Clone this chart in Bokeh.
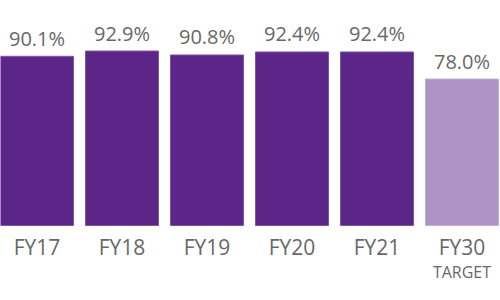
from bokeh.plotting import figure
from bokeh.models import Range1d, ColumnDataSource
from bokeh.core.properties import value
from bokeh.embed import file_html
from bokeh.resources import INLINE

categories = ["FY17", "FY18", "FY19", "FY20", "FY21", "FY30"]
values = [90.1, 92.9, 90.8, 92.4, 92.4, 78.0]
value_labels = ["90.1%", "92.9%", "90.8%", "92.4%", "92.4%", "78.0%"]
sub_labels = ["", "", "", "", "", "TARGET"]
colors = ["#5C2689", "#5C2689", "#5C2689", "#5C2689", "#5C2689", "#AE93C6"]
edge_colors = ["#7E55A6", "#7E55A6", "#7E55A6", "#7E55A6", "#7E55A6", "#C2ADD6"]

xs = list(range(len(categories)))
src = ColumnDataSource(dict(x=xs, top=values, cat=categories, lab=value_labels,
                            sub=sub_labels, color=colors, edge=edge_colors,
                            zero=[0] * len(xs)))

px_per_unit = 1.878
p = figure(width=500, height=300, output_backend="svg", toolbar_location=None,
           x_range=Range1d(-36.5 / 85, (500 - 36.5) / 85),
           y_range=Range1d(-75 / px_per_unit, 225 / px_per_unit),
           min_border=0, outline_line_color=None)
p.axis.visible = False
p.grid.visible = False
p.background_fill_color = "white"
p.border_fill_color = "white"

p.vbar(x="x", top="top", bottom=0, width=73 / 85, source=src,
       fill_color="color", line_color="edge", line_width=1)

font = value("Open Sans")
p.text(x="x", y="top", text="lab", source=src, text_align="center",
       text_baseline="alphabetic", y_offset=-18, text_font=font,
       text_font_size="20px", text_color="#686868")
p.text(x="x", y="zero", text="cat", source=src, text_align="center",
       text_baseline="alphabetic", y_offset=21, text_font=font,
       text_font_size="21px", text_color="#686868")
p.text(x="x", y="zero", text="sub", source=src, text_align="center",
       text_baseline="alphabetic", y_offset=46, text_font=font,
       text_font_size="16px", text_color="#686868")

open("out.html", "w").write(file_html(p, INLINE))
